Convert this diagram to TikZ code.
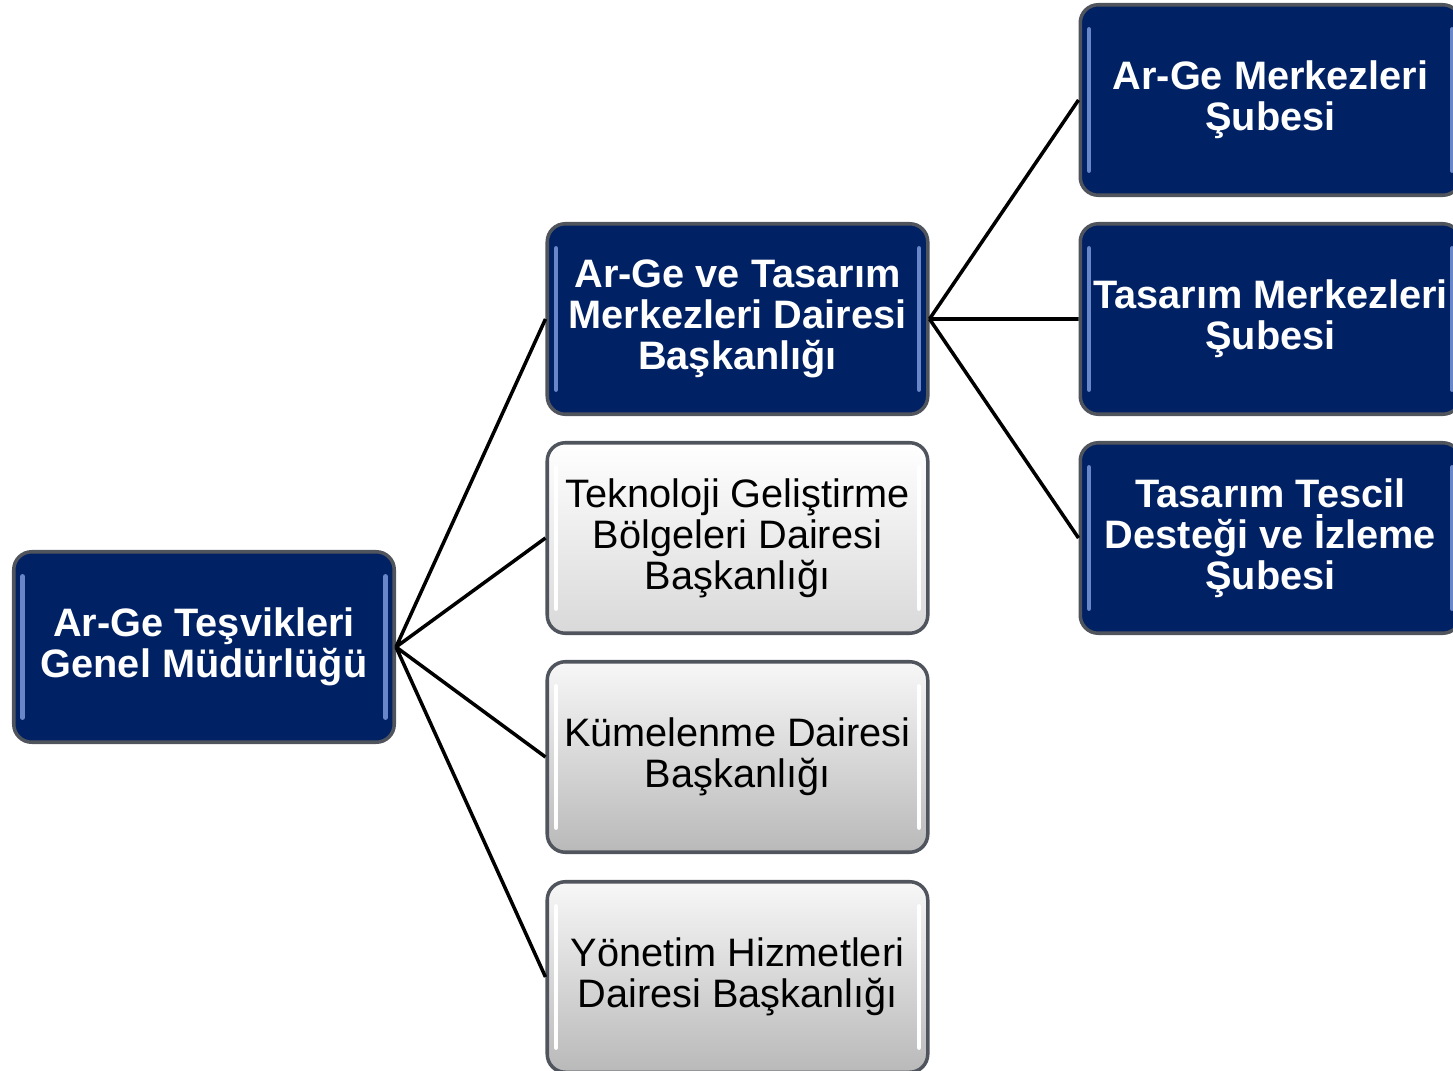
\documentclass[tikz,border=0pt]{standalone}
\usepackage{fontspec}
\setmainfont{Liberation Sans}
\usepackage{tikz}
\definecolor{navy}{RGB}{0,33,99}
\definecolor{edge}{RGB}{80,84,92}
\definecolor{navyshine}{RGB}{105,135,200}

\begin{document}
\begin{tikzpicture}[line width=0.75,
    box/.style={draw=edge,line width=2pt,rounded corners=0.36cm,
      minimum width=7.61cm,minimum height=3.81cm,align=center,inner sep=2pt,
      font=\fontsize{22.6}{23.3}\selectfont},
    shine/.style={path picture={
      \draw[#1,line width=2.6pt,line cap=round]
        ([xshift=5pt,yshift=-14pt]path picture bounding box.north west)
        -- ([xshift=5pt,yshift=14pt]path picture bounding box.south west);
      \draw[#1,line width=2.6pt,line cap=round]
        ([xshift=-5pt,yshift=-14pt]path picture bounding box.north east)
        -- ([xshift=-5pt,yshift=14pt]path picture bounding box.south east);}},
    navybox/.style={box,fill=navy,text=white,shine=navyshine,
      font=\fontsize{22.6}{23.3}\selectfont\bfseries},
    lightbox/.style={box,top color=white,bottom color=gray!30,shine=white},
    graybox/.style={box,top color=gray!6,bottom color=gray!55,shine=white},
    link/.style={line width=2pt,black}]
  \useasboundingbox (0,0) rectangle (29.06,-21.42);
  \clip (0,0) rectangle (29.06,-21.42);
      \coordinate (g) at (4.08,-12.94);
         \coordinate (d1) at (14.75,-6.38);
           \coordinate (d2) at (14.75,-10.76);
            \coordinate (d3) at (14.75,-15.14);
              \coordinate (d4) at (14.75,-19.54);
                 \coordinate (s1) at (25.41,-2.0);
                   \coordinate (s2) at (25.41,-6.38);
                     \coordinate (s3) at (25.41,-10.76);
  \node[navybox] (G) at (g) {Ar-Ge Teşvikleri\\Genel Müdürlüğü};
  \node[navybox] (D1) at (d1) {Ar-Ge ve Tasarım\\Merkezleri Dairesi\\Başkanlığı};
  \node[lightbox] (D2) at (d2) {Teknoloji Geliştirme\\Bölgeleri Dairesi\\Başkanlığı};
  \node[graybox] (D3) at (d3) {Kümelenme Dairesi\\Başkanlığı};
  \node[graybox] (D4) at (d4) {Yönetim Hizmetleri\\Dairesi Başkanlığı};
  \node[navybox] (S1) at (s1) {Ar-Ge Merkezleri\\Şubesi};
  \node[navybox] (S2) at (s2) {Tasarım Merkezleri\\Şubesi};
  \node[navybox] (S3) at (s3) {Tasarım Tescil\\Desteği ve İzleme\\Şubesi};
  \draw[link] (G.east)--(D1.west) (G.east)--(D2.west) (G.east)--(D3.west) (G.east)--(D4.west);
  \draw[link] (D1.east)--(S1.west) (D1.east)--(S2.west) (D1.east)--(S3.west);
\end{tikzpicture}
\end{document}
